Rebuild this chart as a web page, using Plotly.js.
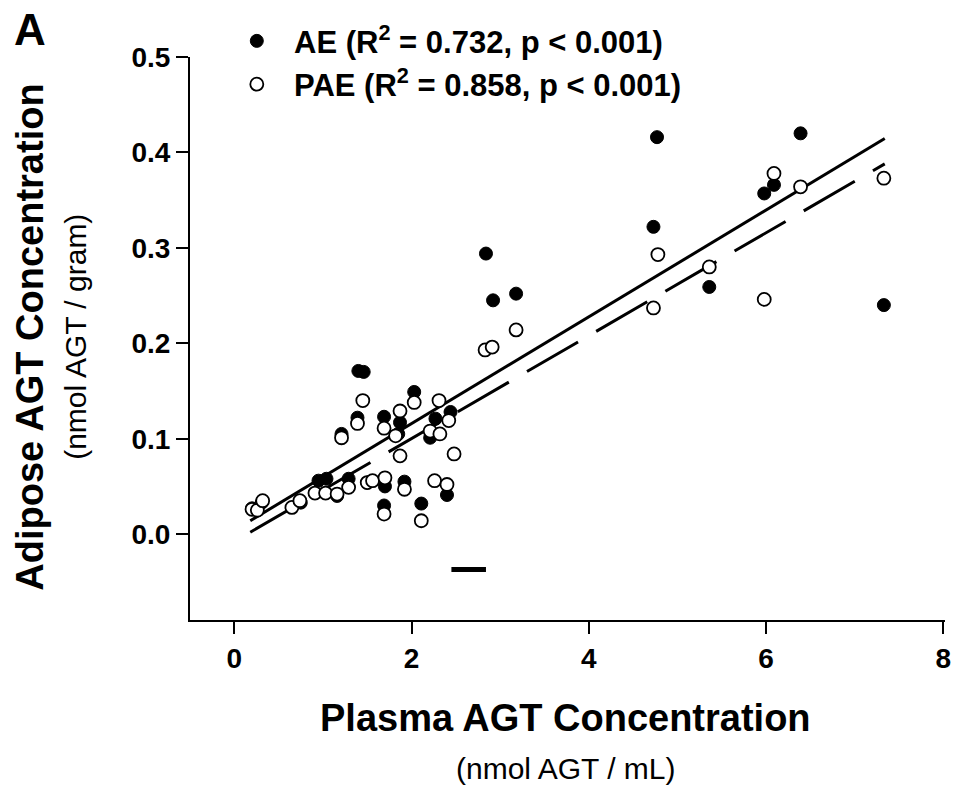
<!DOCTYPE html>
<html>
<head>
<meta charset="utf-8">
<script src="https://cdn.plot.ly/plotly-3.0.1.min.js"></script>
<style>html,body{margin:0;padding:0;background:#fff;}#chart{width:958px;height:788px;}</style>
</head>
<body>
<div id="chart"></div>
<script>
// AE (filled circles)
var aeX = [0.20, 0.31, 0.75, 0.95, 1.04, 1.16, 1.29, 1.21, 1.39, 1.40, 1.46, 1.69, 1.70, 1.69, 1.87, 1.85, 1.92, 2.03, 2.11, 2.21, 2.27, 2.44, 2.40, 2.84, 2.92, 3.18, 4.73, 4.77, 5.36, 5.98, 6.09, 6.39, 7.33, 1.50];
var aeY = [0.027, 0.033, 0.033, 0.056, 0.058, 0.040, 0.058, 0.105, 0.122, 0.171, 0.170, 0.123, 0.050, 0.030, 0.117, 0.105, 0.055, 0.149, 0.032, 0.101, 0.121, 0.128, 0.041, 0.294, 0.245, 0.252, 0.322, 0.416, 0.259, 0.357, 0.366, 0.420, 0.240, 0.054];
// PAE (open circles)
var paeX = [0.20, 0.26, 0.32, 0.65, 0.74, 0.91, 1.03, 1.16, 1.29, 1.21, 1.39, 1.45, 1.50, 1.56, 1.69, 1.70, 1.69, 1.87, 1.82, 1.87, 1.92, 2.03, 2.11, 2.21, 2.31, 2.32, 2.42, 2.26, 2.40, 2.48, 2.83, 2.91, 3.18, 4.73, 4.78, 5.36, 5.98, 6.09, 6.39, 7.33];
var paeY = [0.026, 0.025, 0.035, 0.028, 0.035, 0.043, 0.043, 0.042, 0.049, 0.101, 0.116, 0.140, 0.054, 0.056, 0.111, 0.059, 0.021, 0.129, 0.103, 0.082, 0.047, 0.138, 0.014, 0.108, 0.140, 0.105, 0.119, 0.056, 0.052, 0.084, 0.193, 0.196, 0.214, 0.237, 0.293, 0.280, 0.246, 0.378, 0.364, 0.373];
// regression lines (end points)
var fitX = [0.18, 7.34];
var aeFitY = [0.014, 0.4145];
var paeFitY = [0.002, 0.388];
// stray dash seen below the data
var strayX = [2.45, 2.84];
var strayY = [-0.037, -0.037];
// ticks
var xTicks = [0, 2, 4, 6, 8];
var yTicks = [0.0, 0.1, 0.2, 0.3, 0.4, 0.5];
var NB = "\u00a0\u00a0";
var aeName = NB + "AE (R<sup>2</sup> = 0.732, p < 0.001)";
var paeName = NB + "PAE (R<sup>2</sup> = 0.858, p < 0.001)";

var FONT = "Liberation Sans, Arial, sans-serif";

var traces = [
  {x: fitX, y: aeFitY, mode: "lines", line: {color: "#000", width: 3}, showlegend: false, hoverinfo: "skip"},
  {x: fitX, y: paeFitY, mode: "lines", line: {color: "#000", width: 3, dash: "59px,21px"}, showlegend: false, hoverinfo: "skip"},
  {x: strayX, y: strayY, mode: "lines", line: {color: "#000", width: 5}, showlegend: false, hoverinfo: "skip"},
  {x: aeX, y: aeY, mode: "markers", name: aeName,
   marker: {symbol: "circle", size: 13, color: "#000", line: {color: "#000", width: 1}}},
  {x: paeX, y: paeY, mode: "markers", name: paeName,
   marker: {symbol: "circle", size: 13, color: "#fff", line: {color: "#000", width: 1.8}}}
];

var layout = {
  width: 958, height: 788,
  margin: {l: 190, r: 13, t: 57, b: 168},
  paper_bgcolor: "#fff", plot_bgcolor: "#fff",
  font: {family: FONT, color: "#000"},
  showlegend: true,
  legend: {x: 0.062, y: 1.076, xanchor: "left", yanchor: "top", bgcolor: "rgba(0,0,0,0)",
           font: {family: FONT, size: 31, color: "#000", weight: "bold"}, tracegroupgap: 0},
  xaxis: {range: [-0.5, 8.02], tickvals: xTicks, ticktext: xTicks.map(String),
          showgrid: false, zeroline: false, showline: true, linecolor: "#000", linewidth: 2,
          ticks: "outside", ticklen: 12, tickwidth: 2, tickcolor: "#000",
          tickfont: {family: FONT, size: 28, weight: "bold"}},
  yaxis: {range: [-0.09, 0.5], tickvals: yTicks, ticktext: yTicks.map(function(v){return v.toFixed(1);}),
          showgrid: false, zeroline: false, showline: true, linecolor: "#000", linewidth: 2,
          ticks: "outside", ticklen: 12, tickwidth: 2, tickcolor: "#000",
          tickfont: {family: FONT, size: 28, weight: "bold"}},
  annotations: [
    {text: "<b>A</b>", xref: "paper", yref: "paper", x: -0.212, y: 1.048, xanchor: "center", yanchor: "middle",
     showarrow: false, font: {family: FONT, size: 44}},
    {text: "<b>Adipose AGT Concentration</b>", xref: "paper", yref: "paper", x: -0.212, y: 0.503,
     xanchor: "center", yanchor: "middle",
     textangle: -90, showarrow: false, font: {family: FONT, size: 38}},
    {text: "(nmol AGT / gram)", xref: "paper", yref: "paper", x: -0.151, y: 0.503,
     xanchor: "center", yanchor: "middle",
     textangle: -90, showarrow: false, font: {family: FONT, size: 30}},
    {text: "<b>Plasma AGT Concentration</b>", xref: "paper", yref: "paper", x: 0.498, y: -0.174,
     xanchor: "center", yanchor: "middle",
     showarrow: false, font: {family: FONT, size: 38}},
    {text: "(nmol AGT / mL)", xref: "paper", yref: "paper", x: 0.498, y: -0.263,
     xanchor: "center", yanchor: "middle",
     showarrow: false, font: {family: FONT, size: 30}}
  ]
};

Plotly.newPlot("chart", traces, layout, {displayModeBar: false, staticPlot: true});
</script>
</body>
</html>
